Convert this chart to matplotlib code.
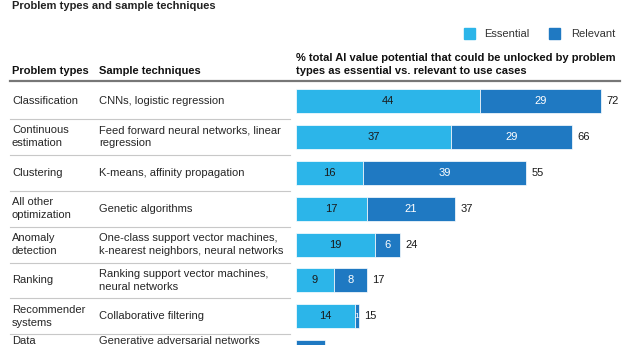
import matplotlib.pyplot as plt
from matplotlib.transforms import blended_transform_factory
from matplotlib.patches import Rectangle
from matplotlib.lines import Line2D

plt.rcParams['font.family'] = ['Liberation Sans', 'DejaVu Sans']

problem_types = ["Classification", "Continuous\nestimation", "Clustering", "All other\noptimization",
                 "Anomaly\ndetection", "Ranking", "Recommender\nsystems", "Data"]
techniques = ["CNNs, logistic regression", "Feed forward neural networks, linear\nregression",
              "K-means, affinity propagation", "Genetic algorithms",
              "One-class support vector machines,\nk-nearest neighbors, neural networks",
              "Ranking support vector machines,\nneural networks", "Collaborative filtering",
              "Generative adversarial networks"]
essential = [44, 37, 16, 17, 19, 9, 14, 0]
relevant = [29, 29, 39, 21, 6, 8, 1, 7]
totals = [72, 66, 55, 37, 24, 17, 15, 7]

LIGHT = '#2cb5e9'
DARK = '#1f79c2'
W, H = 640, 345

fig = plt.figure(figsize=(6.4, 3.45), dpi=100)
ax = fig.add_axes([296 / W, 0, 1 - 296 / W, 1 - 83 / H])
ax.set_xlim(0, (W - 296) / 4.18)
row_px = 35.9
ax.set_ylim(-0.5 + (H - 83) / row_px, -0.5)
ax.axis('off')

ys = list(range(len(essential)))
ax.barh(ys, essential, height=0.67, color=LIGHT, edgecolor='white', linewidth=0.5)
ax.barh(ys, relevant, left=essential, height=0.67, color=DARK, edgecolor='white', linewidth=0.5)

last = len(ys) - 1
for i in ys:
    if i == last:
        continue
    if essential[i] > 0:
        ax.text(essential[i] / 2, i, str(essential[i]), ha='center', va='center', fontsize=8, color='#1a1a1a')
    if relevant[i] > 0:
        ax.text(essential[i] + relevant[i] / 2, i, str(relevant[i]), ha='center', va='center',
                fontsize=8 if relevant[i] > 1 else 6, color='white')
    ax.text(essential[i] + relevant[i] + 1.3, i, str(totals[i]), ha='left', va='center', fontsize=8, color='#1a1a1a')

# table on the left
tr = blended_transform_factory(fig.transFigure, ax.transData)
for i in ys:
    if i == last:
        # last row is cut by the image edge, only its first line shows
        y, va = i - 0.46, 'top'
    else:
        y, va = i, 'center'
    ax.text(12 / W, y, problem_types[i], transform=tr, ha='left', va=va, fontsize=8,
            color='#262626', linespacing=1.4, clip_on=False)
    ax.text(99 / W, y, techniques[i], transform=tr, ha='left', va=va, fontsize=8,
            color='#262626', linespacing=1.4, clip_on=False)
    ax.add_line(Line2D([10 / W, 290 / W], [i + 0.5, i + 0.5], transform=tr, color='#c8c8c8',
                       linewidth=0.8, clip_on=False))

# headings
fig.text(12 / W, 1 - 6 / H, "Problem types and sample techniques", fontsize=8, fontweight='bold',
         color='#222222', va='center')
fig.text(12 / W, 1 - 71 / H, "Problem types", fontsize=8, fontweight='bold', color='#111111', va='center')
fig.text(99 / W, 1 - 71 / H, "Sample techniques", fontsize=8, fontweight='bold', color='#111111', va='center')
fig.text(296 / W, 1 - 64.5 / H, "% total AI value potential that could be unlocked by problem\ntypes as essential vs. relevant to use cases",
         fontsize=8, fontweight='bold', color='#111111', va='center', linespacing=1.3)
fig.add_artist(Line2D([10 / W, 620 / W], [1 - 81 / H, 1 - 81 / H], color='#777777', linewidth=1.6))

# legend
fig.add_artist(Rectangle((464 / W, 1 - 39 / H), 11 / W, 11 / H, color=LIGHT))
fig.text(484 / W, 1 - 34 / H, "Essential", fontsize=8, color='#333333', va='center')
fig.add_artist(Rectangle((549 / W, 1 - 39 / H), 11 / W, 11 / H, color=DARK))
fig.text(571 / W, 1 - 34 / H, "Relevant", fontsize=8, color='#333333', va='center')

fig.savefig('out.png', dpi=100, facecolor='white')
